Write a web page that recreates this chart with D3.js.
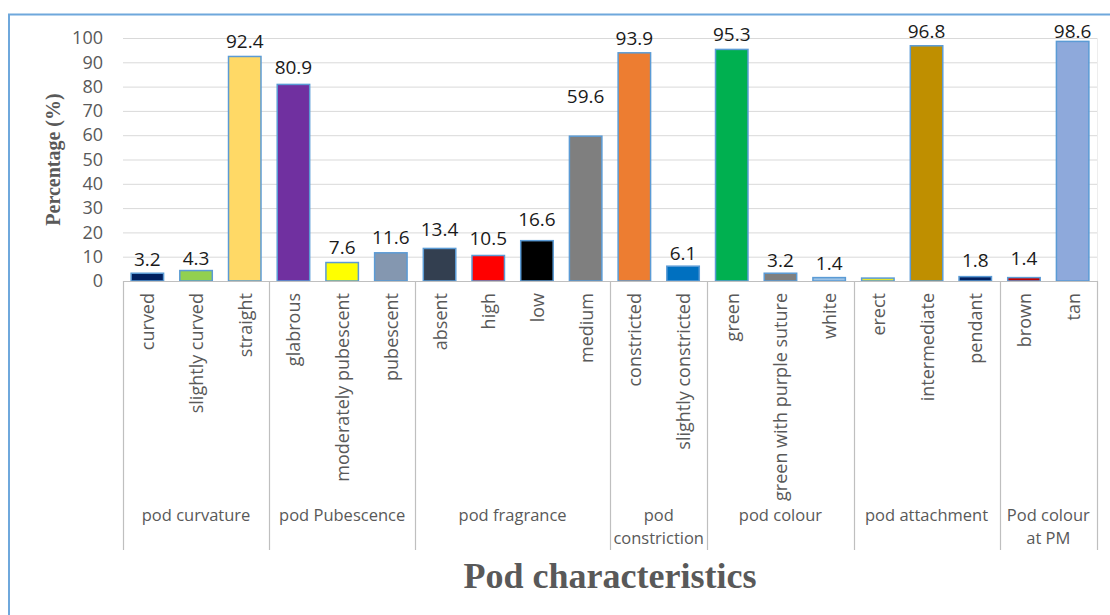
<!DOCTYPE html>
<html>
<head>
<meta charset="utf-8">
<script src="https://cdn.jsdelivr.net/npm/d3@7"></script>
<style>
  html, body { margin: 0; padding: 0; background: #ffffff; }
  svg { display: block; }
</style>
</head>
<body>
<svg id="chart" width="1110" height="615"></svg>
<script>
// Pod characteristic classes and their share of accessions (%)
const categories = [
  "curved", "slightly curved", "straight",
  "glabrous", "moderately pubescent", "pubescent",
  "absent", "high", "low", "medium",
  "constricted", "slightly constricted",
  "green", "green with purple suture", "white",
  "erect", "intermediate", "pendant",
  "brown", "tan"
];
const groups = [
  "pod curvature", "pod curvature", "pod curvature",
  "pod Pubescence", "pod Pubescence", "pod Pubescence",
  "pod fragrance", "pod fragrance", "pod fragrance", "pod fragrance",
  "pod constriction", "pod constriction",
  "pod colour", "pod colour", "pod colour",
  "pod attachment", "pod attachment", "pod attachment",
  "Pod colour at PM", "Pod colour at PM"
];
const values = [
  3.2, 4.3, 92.4,
  80.9, 7.6, 11.6,
  13.4, 10.5, 16.6, 59.6,
  93.9, 6.1,
  95.3, 3.2, 1.4,
  1.2, 96.8, 1.8,
  1.4, 98.6
];
// value labels printed above the bars (the "erect" bar carries none)
const valueLabels = [
  "3.2", "4.3", "92.4",
  "80.9", "7.6", "11.6",
  "13.4", "10.5", "16.6", "59.6",
  "93.9", "6.1",
  "95.3", "3.2", "1.4",
  null, "96.8", "1.8",
  "1.4", "98.6"
];
const barColors = [
  "#002060", "#92D050", "#FFD966",
  "#7030A0", "#FFFF00", "#8497B0",
  "#333F50", "#FF0000", "#000000", "#7F7F7F",
  "#ED7D31", "#0070C0",
  "#00B050", "#7F7F7F", "#9DC3E6",
  "#E6E62E", "#BF8F00", "#002060",
  "#C00000", "#8EA9DB"
];
const yTicks = [0, 10, 20, 30, 40, 50, 60, 70, 80, 90, 100];

// how far each value label sits above its bar top (px)
const labelLift = [14, 13, 15, 17, 16, 16, 19, 17, 22, 40, 15, 13, 15, 13, 15, 15, 15, 17, 20, 15];

const svg = d3.select("#chart");
const W = 1110, H = 615;
const plot = { left: 123, right: 1097, top: 38, bottom: 281 };

// outer chart frame (left and top edges)
svg.append("path")
  .attr("d", `M9,${H} L9,14.5 L${W},14.5`)
  .attr("fill", "none")
  .attr("stroke", "#6FA8DC")
  .attr("stroke-width", 2);

const x = d3.scaleBand()
  .domain(categories)
  .range([plot.left, plot.right])
  .paddingInner(1 / 3)
  .paddingOuter(1 / 6);

const y = d3.scaleLinear()
  .domain([0, 100])
  .range([plot.bottom, plot.top]);

// horizontal gridlines
const grid = svg.append("g")
  .attr("transform", `translate(${plot.left},0)`)
  .call(d3.axisLeft(y).tickValues(yTicks).tickSize(-(plot.right - plot.left)).tickFormat(""));
grid.select(".domain").remove();
grid.selectAll(".tick line").attr("stroke", "#D9D9D9").attr("stroke-width", 1);

// faint right edge of the plot area
svg.append("line")
  .attr("x1", plot.right + 0.5).attr("x2", plot.right + 0.5)
  .attr("y1", plot.top).attr("y2", plot.bottom)
  .attr("stroke", "#EDEDED");

// y axis tick labels
const yAxis = svg.append("g")
  .attr("transform", `translate(${plot.left},0)`)
  .call(d3.axisLeft(y).tickValues(yTicks).tickSize(0).tickPadding(20));
yAxis.select(".domain").remove();
yAxis.selectAll("text")
  .attr("font-family", "'Open Sans', sans-serif")
  .attr("font-size", 18)
  .attr("fill", "#595959");

// y axis title
svg.append("text")
  .attr("transform", `translate(53,${(plot.top + plot.bottom) / 2}) rotate(-90)`)
  .attr("text-anchor", "middle")
  .attr("dominant-baseline", "central")
  .attr("font-family", "'Liberation Serif', 'Times New Roman', serif")
  .attr("font-weight", "bold")
  .attr("font-size", 20)
  .attr("fill", "#595959")
  .text("Percentage (%)");

// bars
const data = categories.map((c, i) => ({
  cat: c, group: groups[i], value: values[i], label: valueLabels[i],
  color: barColors[i], lift: labelLift[i]
}));

svg.append("g").selectAll("rect")
  .data(data)
  .join("rect")
  .attr("x", d => x(d.cat))
  .attr("y", d => y(d.value))
  .attr("width", x.bandwidth())
  .attr("height", d => y(0) - y(d.value))
  .attr("fill", d => d.color)
  .attr("stroke", "#5B9BD5")
  .attr("stroke-width", 1.5);

// value labels (kept inside the chart area near the top)
svg.append("g").selectAll("text")
  .data(data.filter(d => d.label !== null))
  .join("text")
  .attr("x", d => x(d.cat) + x.bandwidth() / 2)
  .attr("y", d => Math.max(31, y(d.value) - d.lift))
  .attr("text-anchor", "middle")
  .attr("dominant-baseline", "central")
  .attr("font-family", "'Open Sans', sans-serif")
  .attr("font-size", 19)
  .attr("fill", "#1A1A1A")
  .text(d => d.label);

// category axis line
svg.append("line")
  .attr("x1", plot.left).attr("x2", plot.right)
  .attr("y1", plot.bottom + 0.5).attr("y2", plot.bottom + 0.5)
  .attr("stroke", "#BFBFBF")
  .attr("stroke-width", 1.2);

// category labels, rotated
svg.append("g").selectAll("text")
  .data(data)
  .join("text")
  .attr("transform", d => `translate(${x(d.cat) + x.bandwidth() / 2},293) rotate(-90)`)
  .attr("text-anchor", "end")
  .attr("dominant-baseline", "central")
  .attr("font-family", "'Open Sans', sans-serif")
  .attr("font-size", 18)
  .attr("fill", "#595959")
  .text(d => d.cat);

// group spans and separators
const groupNames = Array.from(new Set(groups));
const spans = groupNames.map(g => {
  const members = data.filter(d => d.group === g);
  const first = members[0].cat, last = members[members.length - 1].cat;
  const step = x.step();
  const x0 = x(first) - x.paddingInner() * step / 2 - (first === categories[0] ? x.paddingOuter() * step - x.paddingInner() * step / 2 : 0);
  const x1 = x(last) + x.bandwidth() + x.paddingInner() * step / 2 + (last === categories[categories.length - 1] ? x.paddingOuter() * step - x.paddingInner() * step / 2 : 0);
  return { name: g, x0, x1 };
});

const sepX = [plot.left].concat(spans.map(s => s.x1));
svg.append("g").selectAll("line")
  .data(sepX)
  .join("line")
  .attr("x1", d => Math.round(d) + 0.5).attr("x2", d => Math.round(d) + 0.5)
  .attr("y1", plot.bottom).attr("y2", 550)
  .attr("stroke", "#BFBFBF")
  .attr("stroke-width", 1.2);

// group labels, wrapped when the span is too narrow
const groupText = svg.append("g").selectAll("text")
  .data(spans)
  .join("text")
  .attr("text-anchor", "middle")
  .attr("font-family", "'Open Sans', sans-serif")
  .attr("font-size", 16.5)
  .attr("fill", "#595959");

groupText.each(function (s) {
  const t = d3.select(this);
  const cx = (s.x0 + s.x1) / 2;
  const avail = s.x1 - s.x0 - 4;
  t.text(s.name);
  let lines = [s.name];
  if (this.getComputedTextLength() > avail) {
    const words = s.name.split(" ");
    lines = [];
    let cur = "";
    words.forEach(w => {
      const trial = cur ? cur + " " + w : w;
      t.text(trial);
      if (cur && this.getComputedTextLength() > avail) { lines.push(cur); cur = w; }
      else cur = trial;
    });
    lines.push(cur);
  }
  t.text(null);
  lines.forEach((ln, i) => {
    t.append("tspan")
      .attr("x", cx)
      .attr("y", 514 + i * 23)
      .attr("dominant-baseline", "central")
      .text(ln);
  });
});

// x axis title
svg.append("text")
  .attr("x", (plot.left + plot.right) / 2)
  .attr("y", 588)
  .attr("text-anchor", "middle")
  .attr("font-family", "'Liberation Serif', 'Times New Roman', serif")
  .attr("font-weight", "bold")
  .attr("font-size", 36)
  .attr("fill", "#595959")
  .text("Pod characteristics");
</script>
</body>
</html>
